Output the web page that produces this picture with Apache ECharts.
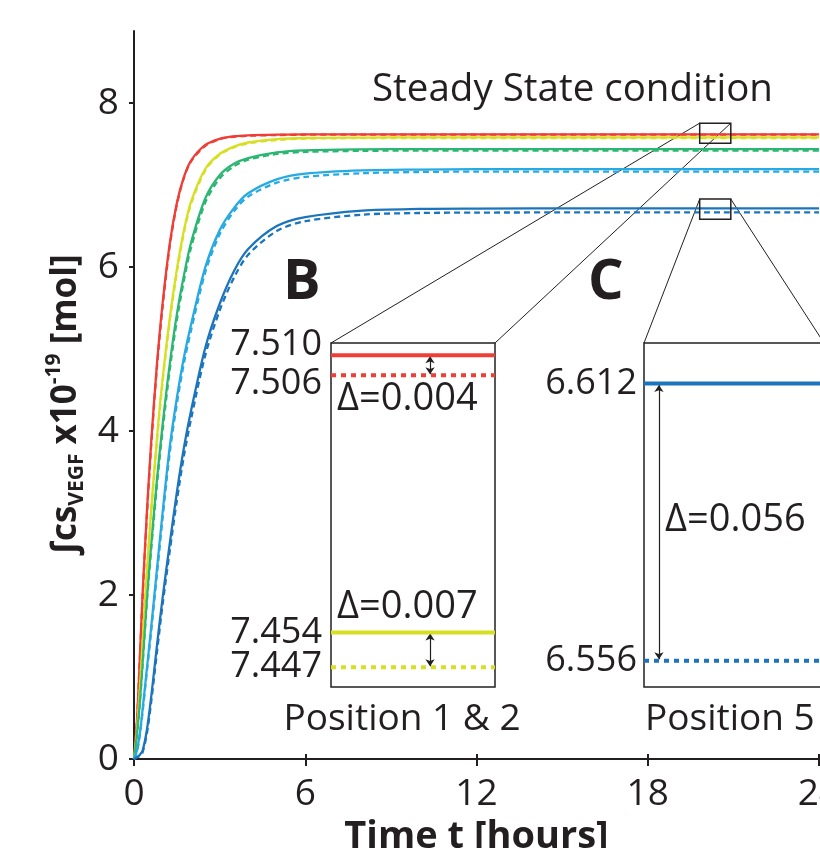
<!DOCTYPE html>
<html>
<head>
<meta charset="utf-8">
<script src="https://cdn.jsdelivr.net/npm/echarts@6/dist/echarts.min.js"></script>
<style>
  html, body { margin: 0; padding: 0; background: #fff; }
  #chart { width: 820px; height: 848px; }
</style>
</head>
<body>
<div id="chart"></div>
<script>
// time in hours, shared by every curve
const time = [0, 0.1, 0.2, 0.3, 0.45, 0.6, 0.8, 1, 1.25, 1.5, 1.75, 2, 2.5, 3, 3.5, 4, 5, 6, 8, 10, 12, 16, 20, 24];

// integrated cs_VEGF (x1e-19 mol), solid / dashed per colour
const redSolid    = [0, 0.45, 1.2, 2.0, 3.0, 3.85, 4.8, 5.55, 6.28, 6.78, 7.1, 7.3, 7.49, 7.565, 7.595, 7.607, 7.616, 7.62, 7.62, 7.62, 7.62, 7.62, 7.62, 7.62];
const redDash     = [0, 0.44, 1.18, 1.97, 2.96, 3.81, 4.76, 5.51, 6.25, 6.76, 7.09, 7.29, 7.48, 7.56, 7.59, 7.602, 7.611, 7.615, 7.616, 7.616, 7.616, 7.616, 7.616, 7.616];
const yellowSolid = [0, 0.35, 0.85, 1.44, 2.28, 3.03, 3.9, 4.63, 5.37, 5.97, 6.45, 6.8, 7.2, 7.38, 7.47, 7.52, 7.56, 7.575, 7.58, 7.582, 7.582, 7.582, 7.582, 7.582];
const yellowDash  = [0, 0.34, 0.83, 1.41, 2.24, 2.99, 3.86, 4.59, 5.33, 5.93, 6.42, 6.77, 7.18, 7.37, 7.46, 7.51, 7.55, 7.567, 7.573, 7.575, 7.575, 7.575, 7.575, 7.575];
const greenSolid  = [0, 0.29, 0.68, 1.17, 1.95, 2.6, 3.39, 4.07, 4.81, 5.42, 5.9, 6.3, 6.84, 7.12, 7.26, 7.33, 7.4, 7.425, 7.437, 7.44, 7.44, 7.44, 7.44, 7.44];
const greenDash   = [0, 0.28, 0.66, 1.14, 1.91, 2.55, 3.33, 4.0, 4.74, 5.35, 5.84, 6.24, 6.79, 7.08, 7.23, 7.31, 7.38, 7.405, 7.418, 7.421, 7.422, 7.422, 7.422, 7.422];
const cyanSolid   = [0, 0.1, 0.3, 0.6, 1.1, 1.6, 2.3, 3.0, 3.8, 4.4, 4.9, 5.3, 6.0, 6.45, 6.72, 6.9, 7.07, 7.14, 7.18, 7.19, 7.195, 7.195, 7.195, 7.195];
const cyanDash    = [0, 0.09, 0.28, 0.57, 1.06, 1.55, 2.24, 2.93, 3.73, 4.33, 4.83, 5.23, 5.94, 6.4, 6.68, 6.86, 7.03, 7.1, 7.145, 7.16, 7.165, 7.165, 7.165, 7.165];
const blueSolid   = [0, 0.02, 0.05, 0.1, 0.35, 0.75, 1.37, 1.96, 2.62, 3.25, 3.8, 4.25, 5.02, 5.55, 5.95, 6.22, 6.5, 6.61, 6.69, 6.71, 6.714, 6.716, 6.716, 6.716];
const blueDash    = [0, 0.02, 0.04, 0.08, 0.31, 0.69, 1.29, 1.88, 2.53, 3.15, 3.7, 4.15, 4.93, 5.47, 5.87, 6.15, 6.44, 6.56, 6.64, 6.66, 6.665, 6.667, 6.667, 6.667];

const xTicks = [0, 6, 12, 18, 24];
const yTicks = [0, 2, 4, 6, 8];

// zoomed steady state values
const insetBValues = [7.510, 7.506, 7.454, 7.447];
const insetCValues = [6.612, 6.556];
const insetBDelta = ['Δ=0.004', 'Δ=0.007'];
const insetCDelta = ['Δ=0.056'];
// zoom windows in the main plot (time, value)
const zoomT = [19.82, 20.91];
const zoomB = [7.51, 7.756];
const zoomC = [6.585, 6.83];

const ink = '#231f20';
const font = 'Open Sans';
const colors = ['#ef3e36', '#d7df23', '#2bb673', '#27aae1', '#1c75bc'];
const pairs = [[redSolid, redDash], [yellowSolid, yellowDash], [greenSolid, greenDash], [cyanSolid, cyanDash], [blueSolid, blueDash]];

const gridB = { left: 331, top: 343, width: 164, height: 344 };
const gridC = { left: 644, top: 343, width: 180, height: 344 };

const zip = vals => time.map((t, i) => [t, vals[i]]);
const flat = v => [[0, v], [1, v]];

const chart = echarts.init(document.getElementById('chart'));

const series = [];
pairs.forEach((p, i) => {
  series.push({
    type: 'line', xAxisIndex: 0, yAxisIndex: 0, data: zip(p[0]),
    showSymbol: false, smooth: 0.3,
    lineStyle: { color: colors[i], width: 2.3 }, z: 3
  });
  series.push({
    type: 'line', xAxisIndex: 0, yAxisIndex: 0, data: zip(p[1]),
    showSymbol: false, smooth: 0.3,
    lineStyle: { color: colors[i], width: 2.3, type: [6, 4] }, z: 4
  });
});

const arrow = (x, a, b) => ({
  silent: true, symbol: ['arrow', 'arrow'], symbolSize: 7,
  label: { show: false },
  lineStyle: { color: ink, width: 1.2, type: 'solid' },
  data: [[{ coord: [x, a] }, { coord: [x, b] }]]
});

// inset B (position 1 & 2)
const insetCols = [colors[0], colors[0], colors[1], colors[1]];
insetBValues.forEach((v, i) => {
  const s = {
    type: 'line', xAxisIndex: 4, yAxisIndex: 3, data: flat(v), showSymbol: false,
    lineStyle: { color: insetCols[i], width: 4, type: i % 2 ? [5, 5] : 'solid', cap: 'butt' }, z: 5
  };
  if (i === 0) s.markLine = arrow(0.604, insetBValues[0] - 0.0002, insetBValues[1] + 0.0002);
  if (i === 2) s.markLine = arrow(0.604, insetBValues[2] - 0.0002, insetBValues[3] + 0.0002);
  series.push(s);
});
// inset C (position 5)
insetCValues.forEach((v, i) => {
  const s = {
    type: 'line', xAxisIndex: 5, yAxisIndex: 4, data: flat(v), showSymbol: false,
    lineStyle: { color: colors[4], width: 4, type: i ? [5, 5] : 'solid', cap: 'butt' }, z: 5
  };
  if (i === 0) s.markLine = arrow(0.083, insetCValues[0] - 0.0003, insetCValues[1] + 0.0003);
  series.push(s);
});

const tickFont = { fontFamily: font, fontSize: 37, color: ink };
const boxGrid = { show: true, backgroundColor: '#fff', borderColor: ink, borderWidth: 1.5, outerBoundsMode: 'none' };

chart.setOption({
  animation: false,
  backgroundColor: '#fff',
  grid: [
    { left: 134, top: 31, right: 1, bottom: 89, outerBoundsMode: 'none' },
    Object.assign({}, boxGrid, gridB),
    Object.assign({}, boxGrid, gridC)
  ],
  xAxis: [
    {
      type: 'value', gridIndex: 0, min: 0, max: 24, interval: 6,
      axisLine: { lineStyle: { color: ink, width: 2 } },
      axisTick: { length: 7, lineStyle: { color: ink, width: 2 } },
      axisLabel: Object.assign({ margin: 17, customValues: xTicks }, tickFont),
      splitLine: { show: false },
      name: 'Time t [hours]', nameLocation: 'middle', nameGap: 46,
      nameTextStyle: { fontFamily: font, fontSize: 38, fontWeight: 'bold', color: ink }
    },
    {
      type: 'value', gridIndex: 0, position: 'top', min: 0, max: 24,
      axisLine: { lineStyle: { color: ink, width: 2 } },
      axisTick: { show: false }, axisLabel: { show: false }, splitLine: { show: false }
    },
    {
      type: 'value', gridIndex: 0, position: 'bottom', min: 0, max: 24, interval: 6,
      axisLine: { show: false },
      axisTick: { inside: true, length: 5, lineStyle: { color: ink, width: 2 } },
      axisLabel: { show: false }, splitLine: { show: false }
    },
    { type: 'value', gridIndex: 0, show: false, min: 0, max: 24 },
    { type: 'value', gridIndex: 1, show: false, min: 0, max: 1 },
    { type: 'value', gridIndex: 2, show: false, min: 0, max: 1 }
  ],
  yAxis: [
    {
      type: 'value', gridIndex: 0, min: 0, max: 8.88,
      axisLine: { lineStyle: { color: ink, width: 2 } },
      axisTick: { length: 5, customValues: yTicks, lineStyle: { color: ink, width: 2 } },
      axisLabel: Object.assign({ margin: 15, customValues: yTicks }, tickFont),
      splitLine: { show: false }
    },
    {
      type: 'value', gridIndex: 0, min: 0, max: 8.88,
      axisLine: { show: false },
      axisTick: { inside: true, length: 5, customValues: yTicks, lineStyle: { color: ink, width: 2 } },
      axisLabel: { show: false }, splitLine: { show: false }
    },
    { type: 'value', gridIndex: 0, show: false, min: 0, max: 8.88 },
    {
      type: 'value', gridIndex: 1, min: 7.443, max: 7.5125,
      axisLine: { show: false }, axisTick: { show: false }, splitLine: { show: false },
      axisLabel: { show: false }
    },
    {
      type: 'value', gridIndex: 2, min: 6.5507, max: 6.6202,
      axisLine: { show: false }, axisTick: { show: false }, splitLine: { show: false },
      axisLabel: Object.assign({ margin: 7, customValues: insetCValues, formatter: v => v.toFixed(3) }, tickFont, { fontSize: 36 })
    }
  ],
  series: series
});

// annotations: zoom boxes, connectors and texts
const px = (t, v) => chart.convertToPixel({ xAxisIndex: 0, yAxisIndex: 0 }, [t, v]);
const boxes = [zoomB, zoomC].map(r => {
  const a = px(zoomT[0], r[1]);
  const b = px(zoomT[1], r[0]);
  return { x: a[0], y: a[1], w: b[0] - a[0], h: b[1] - a[1] };
});
const link = (x1, y1, x2, y2) => ({
  type: 'line', shape: { x1, y1, x2, y2 }, style: { stroke: ink, lineWidth: 1 }, z: 1
});
const txt = (text, x, y, size, extra) => ({
  type: 'text', x, y, z: 20,
  style: Object.assign({ text, fontFamily: font, fontSize: size, fill: ink, align: 'left', verticalAlign: 'middle' }, extra || {})
});

const graphic = [];
boxes.forEach(b => {
  graphic.push({ type: 'rect', shape: { x: b.x, y: b.y, width: b.w, height: b.h }, style: { fill: null, stroke: ink, lineWidth: 1.5 }, z: 10 });
});
graphic.push(link(boxes[0].x, boxes[0].y, gridB.left, gridB.top));
graphic.push(link(boxes[0].x + boxes[0].w, boxes[0].y, gridB.left + gridB.width, gridB.top));
graphic.push(link(boxes[1].x, boxes[1].y, gridC.left, gridC.top));
graphic.push(link(boxes[1].x + boxes[1].w, boxes[1].y, gridC.left + gridC.width, gridC.top));

// inset B value labels; the two top ones are pushed apart so they do not overlap
const labelShift = [-11, 9, 0, 0];
insetBValues.forEach((v, i) => {
  const y = chart.convertToPixel({ xAxisIndex: 4, yAxisIndex: 3 }, [0, v])[1];
  graphic.push(txt(v.toFixed(3), gridB.left - 9, y + labelShift[i], 36, { align: 'right' }));
});

graphic.push(txt('Steady State condition', 372, 90, 38.5));
graphic.push(txt('B', 283, 283, 56, { fontWeight: 'bold' }));
graphic.push(txt('C', 588, 283, 56, { fontWeight: 'bold' }));
graphic.push(txt(insetBDelta[0], 337, 399, 38));
graphic.push(txt(insetBDelta[1], 337, 607, 38));
graphic.push(txt(insetCDelta[0], 665, 520, 38));
graphic.push(txt('Position 1 & 2', 402, 719, 37, { align: 'center' }));
graphic.push(txt('Position 5', 645, 719, 37));
graphic.push({
  type: 'text', x: 66, y: 405, rotation: Math.PI / 2, z: 20,
  style: {
    text: '{b|∫cs}{s|VEGF}{b| x10}{p|-19}{b| [mol]}',
    align: 'center', verticalAlign: 'middle', fill: ink,
    rich: {
      b: { fontFamily: font, fontWeight: 'bold', fontSize: 35, lineHeight: 44, verticalAlign: 'middle', fill: ink },
      s: { fontFamily: font, fontWeight: 'bold', fontSize: 21, lineHeight: 21, verticalAlign: 'bottom', fill: ink },
      p: { fontFamily: font, fontWeight: 'bold', fontSize: 21, lineHeight: 21, verticalAlign: 'top', fill: ink }
    }
  }
});

chart.setOption({ graphic: graphic });
</script>
</body>
</html>
